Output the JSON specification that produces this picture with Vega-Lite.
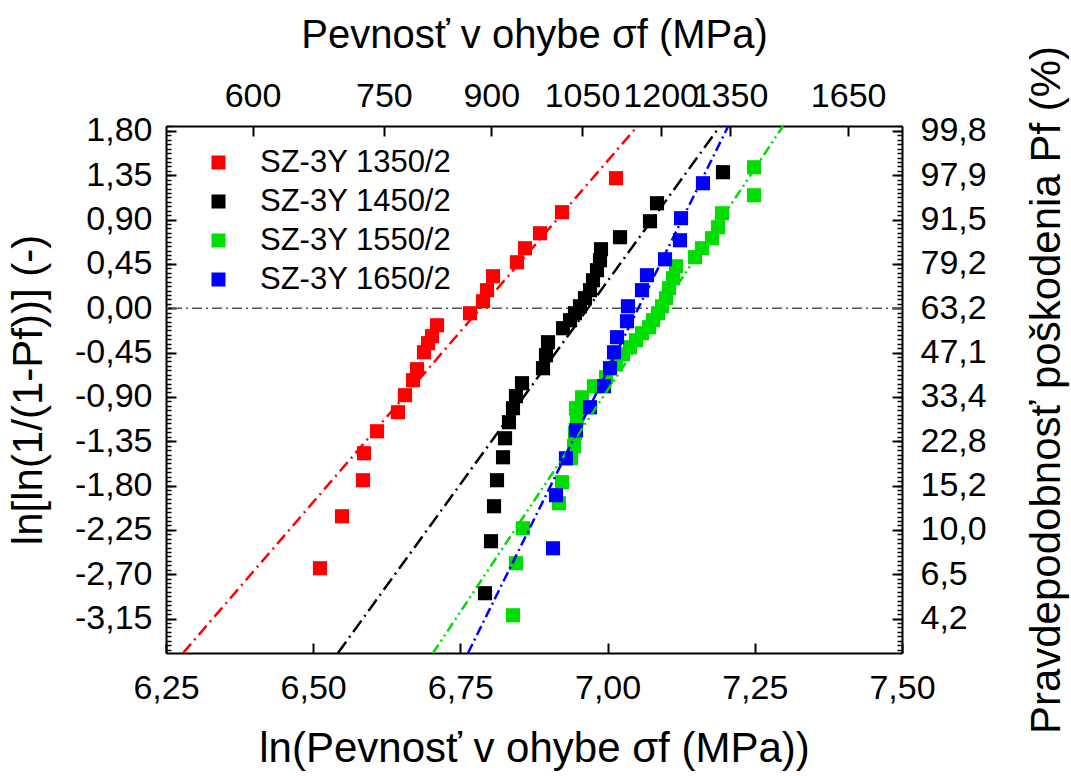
{
  "$schema": "https://vega.github.io/schema/vega-lite/v6.json",
  "width": 736,
  "height": 527,
  "autosize": "none",
  "padding": {"left": 166, "top": 126, "right": 169, "bottom": 123},
  "background": "white",
  "config": {
    "font": "Liberation Sans",
    "view": {"stroke": null},
    "axis": {
      "grid": false,
      "domainColor": "black",
      "domainWidth": 2,
      "tickColor": "black",
      "tickWidth": 2,
      "labelColor": "black",
      "titleColor": "black",
      "labelFont": "Liberation Sans",
      "titleFont": "Liberation Sans",
      "labelFontSize": 34,
      "titleFontSize": 42,
      "titleFontWeight": "normal",
      "labelFlush": false,
      "labelOverlap": false
    },
    "legend": {"labelFont": "Liberation Sans", "labelFontSize": 31, "labelColor": "black", "labelLimit": 400}
  },
  "resolve": {"axis": {"x": "independent", "y": "independent"}},
  "layer": [
    {
      "data": {"values": [{"level": 0}]},
      "mark": {"type": "rule", "color": "#555555", "strokeWidth": 1.5, "strokeDash": [10, 4, 2, 4]},
      "encoding": {
        "y": {"field": "level", "type": "quantitative",
          "scale": {"domain": [-3.5, 1.85], "nice": false, "zero": false},
          "axis": {"orient": "left", "values": [-3.465,-3.42,-3.375,-3.33,-3.285,-3.24,-3.195,-3.15,-3.105,-3.06,-3.015,-2.97,-2.925,-2.88,-2.835,-2.79,-2.745,-2.7,-2.655,-2.61,-2.565,-2.52,-2.475,-2.43,-2.385,-2.34,-2.295,-2.25,-2.205,-2.16,-2.115,-2.07,-2.025,-1.98,-1.935,-1.89,-1.845,-1.8,-1.755,-1.71,-1.665,-1.62,-1.575,-1.53,-1.485,-1.44,-1.395,-1.35,-1.305,-1.26,-1.215,-1.17,-1.125,-1.08,-1.035,-0.99,-0.945,-0.9,-0.855,-0.81,-0.765,-0.72,-0.675,-0.63,-0.585,-0.54,-0.495,-0.45,-0.405,-0.36,-0.315,-0.27,-0.225,-0.18,-0.135,-0.09,-0.045,0,0.045,0.09,0.135,0.18,0.225,0.27,0.315,0.36,0.405,0.45,0.495,0.54,0.585,0.63,0.675,0.72,0.765,0.81,0.855,0.9,0.945,0.99,1.035,1.08,1.125,1.17,1.215,1.26,1.305,1.35,1.395,1.44,1.485,1.53,1.575,1.62,1.665,1.71,1.755,1.8,1.845],
            "labels": false, "domain": false, "tickSize": -5, "tickWidth": 1.5, "title": null}
        }
      }
    },
    {
      "data": {"values": [
        {"s": "SZ-3Y 1350/2", "x": 6.5115, "y": -2.640},
        {"s": "SZ-3Y 1350/2", "x": 6.5489, "y": -2.112},
        {"s": "SZ-3Y 1350/2", "x": 6.5846, "y": -1.746},
        {"s": "SZ-3Y 1350/2", "x": 6.5863, "y": -1.472},
        {"s": "SZ-3Y 1350/2", "x": 6.6084, "y": -1.249},
        {"s": "SZ-3Y 1350/2", "x": 6.6440, "y": -1.056},
        {"s": "SZ-3Y 1350/2", "x": 6.6559, "y": -0.883},
        {"s": "SZ-3Y 1350/2", "x": 6.6695, "y": -0.731},
        {"s": "SZ-3Y 1350/2", "x": 6.6763, "y": -0.619},
        {"s": "SZ-3Y 1350/2", "x": 6.6882, "y": -0.447},
        {"s": "SZ-3Y 1350/2", "x": 6.6950, "y": -0.355},
        {"s": "SZ-3Y 1350/2", "x": 6.7018, "y": -0.284},
        {"s": "SZ-3Y 1350/2", "x": 6.7103, "y": -0.173},
        {"s": "SZ-3Y 1350/2", "x": 6.7663, "y": -0.051},
        {"s": "SZ-3Y 1350/2", "x": 6.7884, "y": 0.071},
        {"s": "SZ-3Y 1350/2", "x": 6.7952, "y": 0.183},
        {"s": "SZ-3Y 1350/2", "x": 6.8054, "y": 0.325},
        {"s": "SZ-3Y 1350/2", "x": 6.8461, "y": 0.467},
        {"s": "SZ-3Y 1350/2", "x": 6.8597, "y": 0.609},
        {"s": "SZ-3Y 1350/2", "x": 6.8852, "y": 0.761},
        {"s": "SZ-3Y 1350/2", "x": 6.9226, "y": 0.975},
        {"s": "SZ-3Y 1350/2", "x": 7.0143, "y": 1.320},
        {"s": "SZ-3Y 1450/2", "x": 6.7918, "y": -2.893},
        {"s": "SZ-3Y 1450/2", "x": 6.8020, "y": -2.365},
        {"s": "SZ-3Y 1450/2", "x": 6.8071, "y": -2.010},
        {"s": "SZ-3Y 1450/2", "x": 6.8122, "y": -1.746},
        {"s": "SZ-3Y 1450/2", "x": 6.8224, "y": -1.513},
        {"s": "SZ-3Y 1450/2", "x": 6.8258, "y": -1.320},
        {"s": "SZ-3Y 1450/2", "x": 6.8325, "y": -1.157},
        {"s": "SZ-3Y 1450/2", "x": 6.8393, "y": -1.015},
        {"s": "SZ-3Y 1450/2", "x": 6.8444, "y": -0.893},
        {"s": "SZ-3Y 1450/2", "x": 6.8546, "y": -0.761},
        {"s": "SZ-3Y 1450/2", "x": 6.8903, "y": -0.609},
        {"s": "SZ-3Y 1450/2", "x": 6.8954, "y": -0.477},
        {"s": "SZ-3Y 1450/2", "x": 6.8988, "y": -0.345},
        {"s": "SZ-3Y 1450/2", "x": 6.9243, "y": -0.203},
        {"s": "SZ-3Y 1450/2", "x": 6.9362, "y": -0.122},
        {"s": "SZ-3Y 1450/2", "x": 6.9446, "y": -0.051},
        {"s": "SZ-3Y 1450/2", "x": 6.9531, "y": 0.020},
        {"s": "SZ-3Y 1450/2", "x": 6.9616, "y": 0.102},
        {"s": "SZ-3Y 1450/2", "x": 6.9701, "y": 0.183},
        {"s": "SZ-3Y 1450/2", "x": 6.9752, "y": 0.284},
        {"s": "SZ-3Y 1450/2", "x": 6.9820, "y": 0.386},
        {"s": "SZ-3Y 1450/2", "x": 6.9871, "y": 0.487},
        {"s": "SZ-3Y 1450/2", "x": 6.9888, "y": 0.599},
        {"s": "SZ-3Y 1450/2", "x": 7.0211, "y": 0.721},
        {"s": "SZ-3Y 1450/2", "x": 7.0720, "y": 0.883},
        {"s": "SZ-3Y 1450/2", "x": 7.0839, "y": 1.066},
        {"s": "SZ-3Y 1450/2", "x": 7.1960, "y": 1.381},
        {"s": "SZ-3Y 1550/2", "x": 6.8393, "y": -3.117},
        {"s": "SZ-3Y 1550/2", "x": 6.8444, "y": -2.589},
        {"s": "SZ-3Y 1550/2", "x": 6.8563, "y": -2.234},
        {"s": "SZ-3Y 1550/2", "x": 6.9175, "y": -1.980},
        {"s": "SZ-3Y 1550/2", "x": 6.9226, "y": -1.766},
        {"s": "SZ-3Y 1550/2", "x": 6.9378, "y": -1.523},
        {"s": "SZ-3Y 1550/2", "x": 6.9429, "y": -1.401},
        {"s": "SZ-3Y 1550/2", "x": 6.9446, "y": -1.269},
        {"s": "SZ-3Y 1550/2", "x": 6.9480, "y": -1.117},
        {"s": "SZ-3Y 1550/2", "x": 6.9463, "y": -1.015},
        {"s": "SZ-3Y 1550/2", "x": 6.9565, "y": -0.904},
        {"s": "SZ-3Y 1550/2", "x": 6.9769, "y": -0.792},
        {"s": "SZ-3Y 1550/2", "x": 6.9973, "y": -0.701},
        {"s": "SZ-3Y 1550/2", "x": 7.0143, "y": -0.569},
        {"s": "SZ-3Y 1550/2", "x": 7.0262, "y": -0.467},
        {"s": "SZ-3Y 1550/2", "x": 7.0381, "y": -0.396},
        {"s": "SZ-3Y 1550/2", "x": 7.0482, "y": -0.325},
        {"s": "SZ-3Y 1550/2", "x": 7.0584, "y": -0.254},
        {"s": "SZ-3Y 1550/2", "x": 7.0703, "y": -0.193},
        {"s": "SZ-3Y 1550/2", "x": 7.0771, "y": -0.122},
        {"s": "SZ-3Y 1550/2", "x": 7.0856, "y": -0.051},
        {"s": "SZ-3Y 1550/2", "x": 7.0924, "y": 0.020},
        {"s": "SZ-3Y 1550/2", "x": 7.0992, "y": 0.102},
        {"s": "SZ-3Y 1550/2", "x": 7.1043, "y": 0.203},
        {"s": "SZ-3Y 1550/2", "x": 7.1111, "y": 0.305},
        {"s": "SZ-3Y 1550/2", "x": 7.1162, "y": 0.426},
        {"s": "SZ-3Y 1550/2", "x": 7.1484, "y": 0.518},
        {"s": "SZ-3Y 1550/2", "x": 7.1603, "y": 0.609},
        {"s": "SZ-3Y 1550/2", "x": 7.1773, "y": 0.711},
        {"s": "SZ-3Y 1550/2", "x": 7.1875, "y": 0.822},
        {"s": "SZ-3Y 1550/2", "x": 7.1943, "y": 0.964},
        {"s": "SZ-3Y 1550/2", "x": 7.2487, "y": 1.147},
        {"s": "SZ-3Y 1550/2", "x": 7.2487, "y": 1.431},
        {"s": "SZ-3Y 1650/2", "x": 6.9073, "y": -2.437},
        {"s": "SZ-3Y 1650/2", "x": 6.9124, "y": -1.898},
        {"s": "SZ-3Y 1650/2", "x": 6.9293, "y": -1.523},
        {"s": "SZ-3Y 1650/2", "x": 6.9463, "y": -1.239},
        {"s": "SZ-3Y 1650/2", "x": 6.9701, "y": -1.005},
        {"s": "SZ-3Y 1650/2", "x": 6.9939, "y": -0.792},
        {"s": "SZ-3Y 1650/2", "x": 7.0041, "y": -0.609},
        {"s": "SZ-3Y 1650/2", "x": 7.0109, "y": -0.447},
        {"s": "SZ-3Y 1650/2", "x": 7.0160, "y": -0.294},
        {"s": "SZ-3Y 1650/2", "x": 7.0330, "y": -0.132},
        {"s": "SZ-3Y 1650/2", "x": 7.0346, "y": 0.020},
        {"s": "SZ-3Y 1650/2", "x": 7.0584, "y": 0.183},
        {"s": "SZ-3Y 1650/2", "x": 7.0669, "y": 0.335},
        {"s": "SZ-3Y 1650/2", "x": 7.0975, "y": 0.497},
        {"s": "SZ-3Y 1650/2", "x": 7.1230, "y": 0.690},
        {"s": "SZ-3Y 1650/2", "x": 7.1247, "y": 0.914},
        {"s": "SZ-3Y 1650/2", "x": 7.1620, "y": 1.269}
      ]},
      "mark": {"type": "square", "size": 200, "opacity": 1},
      "encoding": {
        "x": {"field": "x", "type": "quantitative",
          "scale": {"domain": [6.25, 7.5], "nice": false, "zero": false},
          "axis": {"orient": "bottom", "values": [6.25, 6.5, 6.75, 7.0, 7.25, 7.5],
            "labelExpr": "replace(format(datum.value,'.2f'),'.',',')",
            "tickSize": -10, "labelPadding": 28,
            "title": "ln(Pevnosť v ohybe σf (MPa))", "titlePadding": 23}},
        "y": {"field": "y", "type": "quantitative",
          "axis": {"orient": "left", "values": [-3.15,-2.7,-2.25,-1.8,-1.35,-0.9,-0.45,0,0.45,0.9,1.35,1.8],
            "labelExpr": "replace(replace(format(datum.value,'.2f'),'.',','),'−','-')",
            "tickSize": -10, "labelPadding": 24,
            "title": "ln[ln(1/(1-Pf))] (-)", "titlePadding": 24}},
        "color": {"field": "s", "type": "nominal",
          "scale": {"domain": ["SZ-3Y 1350/2", "SZ-3Y 1450/2", "SZ-3Y 1550/2", "SZ-3Y 1650/2"], "range": ["#ff0000", "#000000", "#00dd00", "#0000ff"]},
          "legend": {"orient": "none", "legendX": 37, "legendY": 21, "title": null,
            "symbolType": "square", "symbolSize": 196, "symbolStrokeWidth": 0, "symbolOpacity": 1,
            "labelOffset": 26, "labelLimit": 400, "rowPadding": 7, "padding": 0}}
      }
    },
    {
      "data": {"values": [
        {"s": "SZ-3Y 1350/2", "x": 6.279, "y": -3.5},
        {"s": "SZ-3Y 1350/2", "x": 7.051, "y": 1.85},
        {"s": "SZ-3Y 1450/2", "x": 6.542, "y": -3.5},
        {"s": "SZ-3Y 1450/2", "x": 7.191, "y": 1.85}
      ]},
      "mark": {"type": "line", "strokeWidth": 2.5},
      "encoding": {
        "x": {"field": "x", "type": "quantitative",
          "axis": {"orient": "top", "values": [6.39693, 6.620073, 6.802395, 6.956545, 7.090077, 7.20786, 7.408531],
            "labelExpr": "format(exp(datum.value),'.0f')", "tickSize": -10, "labelPadding": 23,
            "title": "Pevnosť v ohybe σf (MPa)", "titleFontSize": 40, "titlePadding": 24}},
        "y": {"field": "y", "type": "quantitative",
          "axis": {"orient": "right", "values": [-3.15,-2.7,-2.25,-1.8,-1.35,-0.9,-0.45,0,0.45,0.9,1.35,1.8],
            "labelExpr": "replace(format((1-exp(-exp(datum.value)))*100,'.1f'),'.',',')",
            "tickSize": -10, "labelPadding": 28,
            "title": "Pravdepodobnosť poškodenia Pf (%)", "titleAngle": -90, "titlePadding": 82}},
        "color": {"field": "s", "type": "nominal", "legend": null},
        "strokeDash": {"field": "s", "type": "nominal",
          "scale": {"domain": ["SZ-3Y 1350/2", "SZ-3Y 1450/2", "SZ-3Y 1550/2", "SZ-3Y 1650/2"], "range": [[12, 5, 2, 5], [14, 5, 2, 5], [10, 4, 2, 4, 2, 4], [10, 4, 2, 4]]},
          "legend": null}
      }
    },
    {
      "data": {"values": [
        {"s": "SZ-3Y 1550/2", "x": 6.7035, "y": -3.5},
        {"s": "SZ-3Y 1550/2", "x": 7.298, "y": 1.85},
        {"s": "SZ-3Y 1650/2", "x": 6.763, "y": -3.5},
        {"s": "SZ-3Y 1650/2", "x": 7.205, "y": 1.85}
      ]},
      "mark": {"type": "line", "strokeWidth": 2.5},
      "encoding": {
        "x": {"field": "x", "type": "quantitative", "axis": null},
        "y": {"field": "y", "type": "quantitative",
          "axis": {"orient": "right", "values": [-3.465,-3.42,-3.375,-3.33,-3.285,-3.24,-3.195,-3.15,-3.105,-3.06,-3.015,-2.97,-2.925,-2.88,-2.835,-2.79,-2.745,-2.7,-2.655,-2.61,-2.565,-2.52,-2.475,-2.43,-2.385,-2.34,-2.295,-2.25,-2.205,-2.16,-2.115,-2.07,-2.025,-1.98,-1.935,-1.89,-1.845,-1.8,-1.755,-1.71,-1.665,-1.62,-1.575,-1.53,-1.485,-1.44,-1.395,-1.35,-1.305,-1.26,-1.215,-1.17,-1.125,-1.08,-1.035,-0.99,-0.945,-0.9,-0.855,-0.81,-0.765,-0.72,-0.675,-0.63,-0.585,-0.54,-0.495,-0.45,-0.405,-0.36,-0.315,-0.27,-0.225,-0.18,-0.135,-0.09,-0.045,0,0.045,0.09,0.135,0.18,0.225,0.27,0.315,0.36,0.405,0.45,0.495,0.54,0.585,0.63,0.675,0.72,0.765,0.81,0.855,0.9,0.945,0.99,1.035,1.08,1.125,1.17,1.215,1.26,1.305,1.35,1.395,1.44,1.485,1.53,1.575,1.62,1.665,1.71,1.755,1.8,1.845],
            "labels": false, "domain": false, "tickSize": -5, "tickWidth": 1.5, "title": null}},
        "color": {"field": "s", "type": "nominal", "legend": null},
        "strokeDash": {"field": "s", "type": "nominal", "legend": null}
      }
    }
  ]
}
